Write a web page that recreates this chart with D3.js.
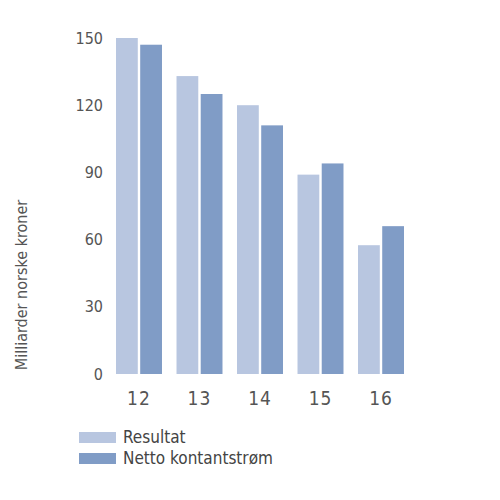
<!DOCTYPE html>
<html>
<head>
<meta charset="utf-8">
<script src="https://cdn.jsdelivr.net/npm/d3@7"></script>
<style>
  body { margin: 0; background: #fff; }
  text { font-family: "DejaVu Sans Condensed", "Liberation Sans Narrow", sans-serif; }
</style>
</head>
<body>
<div id="chart"></div>
<script>
// categories (years) and series
const years = ["12", "13", "14", "15", "16"];
const seriesNames = ["Resultat", "Netto kontantstrøm"];
const resultat = [150, 133, 120, 89, 57.5];
const nettoKontantstrom = [147, 125, 111, 94, 66];
const yTicks = [0, 30, 60, 90, 120, 150];
const colors = ["#b8c6e0", "#809cc6"];

const width = 500, height = 500;

const svg = d3.select("#chart")
    .append("svg")
    .attr("width", width)
    .attr("height", height);

const x = d3.scaleBand()
    .domain(years)
    .range([116, 404])
    .paddingInner(0.24)
    .paddingOuter(0);

const xSub = d3.scaleBand()
    .domain(seriesNames)
    .range([0, x.bandwidth()])
    .paddingInner(0.1);

const y = d3.scaleLinear()
    .domain([0, 150])
    .range([374, 38]);

const rows = years.map((yr, i) => ({
    year: yr,
    values: [
        { name: seriesNames[0], value: resultat[i] },
        { name: seriesNames[1], value: nettoKontantstrom[i] }
    ]
}));

// bars
const groups = svg.selectAll("g.group")
    .data(rows)
    .enter()
    .append("g")
    .attr("class", "group")
    .attr("transform", d => "translate(" + x(d.year) + ",0)");

groups.selectAll("rect")
    .data(d => d.values)
    .enter()
    .append("rect")
    .attr("x", d => xSub(d.name))
    .attr("width", xSub.bandwidth())
    .attr("y", d => y(d.value))
    .attr("height", d => y(0) - y(d.value))
    .style("fill", (d, i) => colors[i]);

// y axis labels (no line)
const yAxis = svg.append("g")
    .attr("transform", "translate(103,0)")
    .call(d3.axisLeft(y).tickValues(yTicks).tickSize(0).tickPadding(0));
yAxis.select(".domain").remove();
yAxis.selectAll("text")
    .style("font-size", "16px")
    .style("fill", "#555")
    .style("font-family", "DejaVu Sans Condensed, sans-serif");

// x axis labels
const xAxis = svg.append("g")
    .attr("transform", "translate(0,405)")
    .call(d3.axisBottom(x).tickSize(0).tickPadding(0));
xAxis.select(".domain").remove();
xAxis.selectAll("text")
    .attr("dy", "0")
    .style("font-size", "19px")
    .style("letter-spacing", "1px")
    .style("fill", "#555")
    .style("font-family", "DejaVu Sans Condensed, sans-serif");

// y axis title
svg.append("text")
    .attr("transform", "translate(27,285) rotate(-90)")
    .attr("text-anchor", "middle")
    .style("font-size", "16px")
    .style("fill", "#555")
    .text("Milliarder norske kroner");

// legend
const legend = svg.selectAll("g.legend")
    .data(seriesNames)
    .enter()
    .append("g")
    .attr("class", "legend")
    .attr("transform", (d, i) => "translate(79," + (432 + i * 21) + ")");

legend.append("rect")
    .attr("width", 37)
    .attr("height", 11)
    .style("fill", (d, i) => colors[i]);

legend.append("text")
    .attr("x", 44)
    .attr("y", 10.5)
    .style("font-size", "17px")
    .style("fill", "#444")
    .text(d => d);
</script>
</body>
</html>
